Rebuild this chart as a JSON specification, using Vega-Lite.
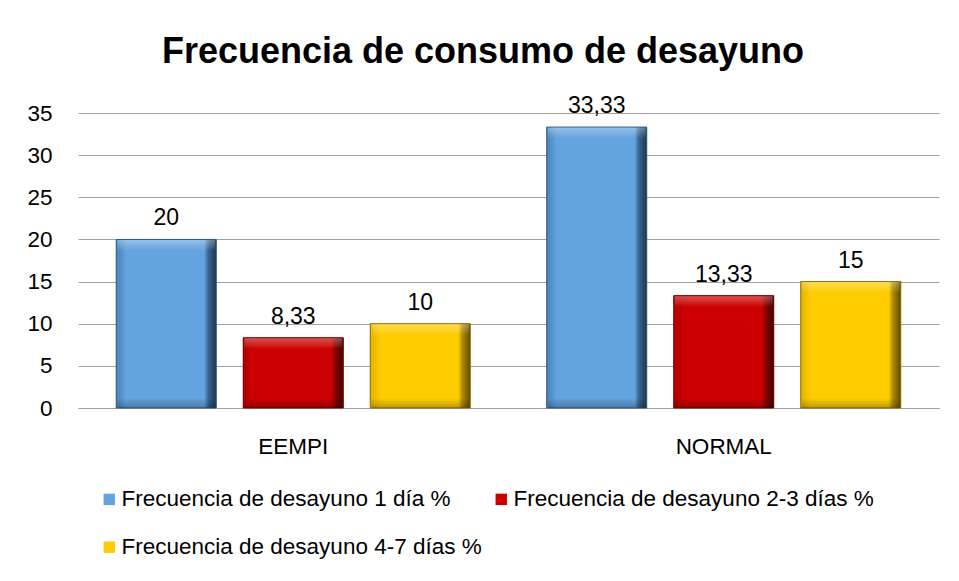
{
  "$schema": "https://vega.github.io/schema/vega-lite/v6.json",
  "width": 861,
  "height": 295,
  "autosize": "none",
  "padding": {"left": 78, "top": 113, "right": 20, "bottom": 173},
  "background": "white",
  "config": {
    "font": "Liberation Sans",
    "view": {"stroke": null},
    "locale": {"number": {"decimal": ",", "thousands": ".", "grouping": [3], "currency": ["", " €"]}}
  },
  "title": {
    "text": "Frecuencia de consumo de desayuno",
    "font": "Liberation Sans",
    "fontSize": 36,
    "fontWeight": "bold",
    "color": "#000000",
    "anchor": "middle",
    "frame": "bounds",
    "offset": 24
  },
  "data": {
    "values": [
      {"grupo": "EEMPI", "serie": "Frecuencia de desayuno 1 día %", "valor": 20},
      {"grupo": "EEMPI", "serie": "Frecuencia de desayuno 2-3 días %", "valor": 8.33},
      {"grupo": "EEMPI", "serie": "Frecuencia de desayuno 4-7 días %", "valor": 10},
      {"grupo": "NORMAL", "serie": "Frecuencia de desayuno 1 día %", "valor": 33.33},
      {"grupo": "NORMAL", "serie": "Frecuencia de desayuno 2-3 días %", "valor": 13.33},
      {"grupo": "NORMAL", "serie": "Frecuencia de desayuno 4-7 días %", "valor": 15}
    ]
  },
  "encoding": {
    "x": {
      "field": "grupo",
      "type": "nominal",
      "scale": {"paddingInner": 0, "paddingOuter": 0},
      "axis": {
        "title": null,
        "labelAngle": 0,
        "labelFontSize": 22.5,
        "labelColor": "#000000",
        "labelPadding": 27,
        "ticks": false,
        "domainColor": "#A0A0A0",
        "domainWidth": 1
      }
    },
    "xOffset": {
      "field": "serie",
      "type": "nominal",
      "scale": {"paddingInner": 0.2126, "paddingOuter": 0.301}
    },
    "y": {
      "field": "valor",
      "type": "quantitative",
      "scale": {"domain": [0, 35], "nice": false},
      "axis": {
        "title": null,
        "values": [0, 5, 10, 15, 20, 25, 30, 35],
        "labelFontSize": 22.5,
        "labelColor": "#000000",
        "labelPadding": 26,
        "ticks": false,
        "domain": false,
        "gridColor": "#A0A0A0",
        "gridWidth": 1
      }
    }
  },
  "layer": [
    {
      "mark": {"type": "bar"},
      "encoding": {
        "color": {
          "field": "serie",
          "type": "nominal",
          "scale": {
            "domain": ["Frecuencia de desayuno 1 día %", "Frecuencia de desayuno 2-3 días %", "Frecuencia de desayuno 4-7 días %"],
            "range": ["#62A3E0", "#CC0000", "#FFCC00"]
          },
          "legend": {
            "title": null,
            "orient": "none",
            "legendX": 20,
            "legendY": 375,
            "direction": "horizontal",
            "columns": 2,
            "columnPadding": 8,
            "rowPadding": 25,
            "symbolType": "square",
            "symbolSize": 130,
            "symbolStrokeWidth": 0,
            "labelFontSize": 22.5,
            "labelColor": "#000000",
            "labelOffset": 1,
            "labelLimit": 500
          }
        }
      }
    },
    {
      "transform": [{"filter": "datum.serie === 'Frecuencia de desayuno 1 día %'"}],
      "mark": {
        "type": "bar",
        "stroke": "#2F5A82",
        "strokeWidth": 1,
        "color": {
          "gradient": "linear", "x1": 0, "y1": 0, "x2": 1, "y2": 0,
          "stops": [
            {"offset": 0, "color": "#4A82B8"},
            {"offset": 0.1, "color": "#62A3E0"},
            {"offset": 0.88, "color": "#62A3E0"},
            {"offset": 0.92, "color": "#3B6690"},
            {"offset": 1, "color": "#1C3550"}
          ]
        }
      }
    },
    {
      "transform": [{"filter": "datum.serie === 'Frecuencia de desayuno 2-3 días %'"}],
      "mark": {
        "type": "bar",
        "stroke": "#7A0000",
        "strokeWidth": 1,
        "color": {
          "gradient": "linear", "x1": 0, "y1": 0, "x2": 1, "y2": 0,
          "stops": [
            {"offset": 0, "color": "#B00000"},
            {"offset": 0.1, "color": "#CC0000"},
            {"offset": 0.88, "color": "#CC0000"},
            {"offset": 0.92, "color": "#8A0000"},
            {"offset": 1, "color": "#3A0000"}
          ]
        }
      }
    },
    {
      "transform": [{"filter": "datum.serie === 'Frecuencia de desayuno 4-7 días %'"}],
      "mark": {
        "type": "bar",
        "stroke": "#8C6E00",
        "strokeWidth": 1,
        "color": {
          "gradient": "linear", "x1": 0, "y1": 0, "x2": 1, "y2": 0,
          "stops": [
            {"offset": 0, "color": "#E0B300"},
            {"offset": 0.1, "color": "#FFCC00"},
            {"offset": 0.88, "color": "#FFCC00"},
            {"offset": 0.92, "color": "#B08C00"},
            {"offset": 1, "color": "#5E4A00"}
          ]
        }
      }
    },
    {
      "mark": {
        "type": "tick",
        "orient": "horizontal",
        "size": 98,
        "thickness": 11,
        "yOffset": 6,
        "color": {
          "gradient": "linear", "x1": 0, "y1": 0, "x2": 0, "y2": 1,
          "stops": [
            {"offset": 0, "color": "rgba(255,255,255,0.45)"},
            {"offset": 1, "color": "rgba(255,255,255,0)"}
          ]
        }
      }
    },
    {
      "mark": {
        "type": "tick",
        "orient": "horizontal",
        "size": 98,
        "thickness": 10,
        "yOffset": -5,
        "color": {
          "gradient": "linear", "x1": 0, "y1": 0, "x2": 0, "y2": 1,
          "stops": [
            {"offset": 0, "color": "rgba(0,0,0,0)"},
            {"offset": 1, "color": "rgba(0,0,0,0.35)"}
          ]
        }
      },
      "encoding": {
        "y": {"datum": 0, "type": "quantitative"}
      }
    },
    {
      "mark": {
        "type": "text",
        "baseline": "alphabetic",
        "dy": -14,
        "fontSize": 23,
        "color": "#000000"
      },
      "encoding": {
        "text": {"field": "valor", "type": "quantitative", "format": "~g"}
      }
    }
  ]
}
